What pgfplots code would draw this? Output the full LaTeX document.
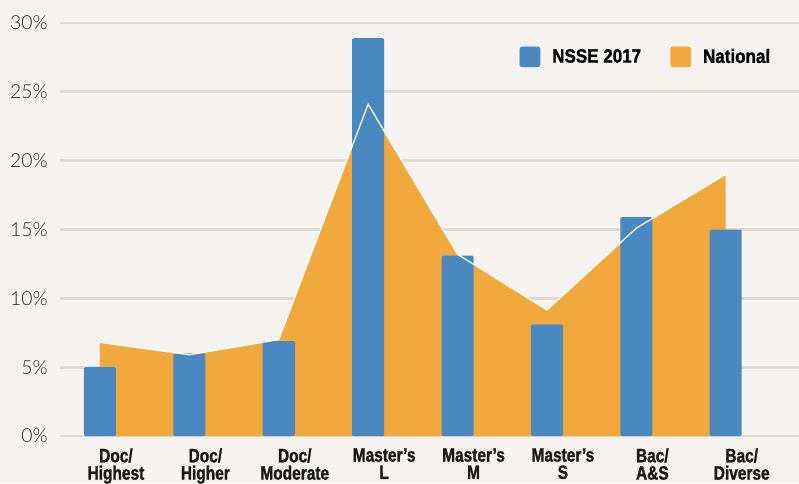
\documentclass[border=0pt]{standalone}
\usepackage{fontspec}
\usepackage{pgfplots}
\pgfplotsset{compat=1.18}
\setmainfont{Liberation Sans}
\newfontfamily\catfont[FakeStretch=0.8,FakeBold=1.2]{Liberation Sans}
\newfontfamily\legfont[FakeStretch=0.88,FakeBold=1.2]{Liberation Sans}
\newfontfamily\tickfont{Lato Light}
\definecolor{bgc}{HTML}{F5F2EF}
\definecolor{nsseblue}{HTML}{4A89BF}
\definecolor{natorange}{HTML}{F1A83C}
\definecolor{gridc}{HTML}{E0D9D0}
\begin{document}
\begin{tikzpicture}
\fill[bgc] (-45pt,-35.25pt) rectangle (554.25pt,327pt);
\useasboundingbox (-45pt,-35.25pt) rectangle (554.25pt,327pt);
\begin{axis}[
  at={(0pt,0pt)}, anchor=south west,
  scale only axis, width=554pt, height=309.75pt,
  xmin=-0.447, xmax=7.816, ymin=0, ymax=30,
  axis line style={draw=none},
  major tick length=0pt,
  xtick={0,1,2,3,4,5,6,7},
  xticklabels={{Doc/\\Highest},{Doc/\\Higher},{Doc/\\Moderate},{Master’s\\L},{Master’s\\M},{Master’s\\S},{Bac/\\A\&S},{Bac/\\Diverse}},
  xticklabel style={align=center, anchor=north, inner sep=0pt, yshift=-9pt, xshift=12pt,
     font=\catfont\bfseries\fontsize{14.5}{13}\selectfont, text=black!90},
  ytick={0,5,10,15,20,25,30},
  yticklabel={\pgfmathprintnumber{\tick}\%},
  yticklabel style={anchor=east, inner sep=0pt, xshift=-9pt,
     font=\tickfont\fontsize{14.5}{16}\selectfont, text=black!85},
  /pgf/number format/assume math mode=true,
  ymajorgrids,
  grid style={gridc, line width=2.2pt},
  clip=false,
  legend style={at={(rel axis cs:0.622,0.918)}, anchor=west, draw=none, fill=none,
     font=\legfont\bfseries\fontsize{14.5}{16}\selectfont, legend columns=2,
     /tikz/every odd column/.append style={column sep=7pt},
     /tikz/every even column/.append style={column sep=20pt},
     legend cell align=left, inner sep=0pt},
]
\addplot[fill=natorange, draw=none, forget plot] coordinates {
 (0,6.8) (1,5.9) (2,7.0) (3,24.1) (4,13.2) (5,9.15) (6,15.1) (7,19.0)} \closedcycle;
\addplot[ybar, bar width=0.358, bar shift=0pt, fill=nsseblue, draw=none, rounded corners=1pt, forget plot] coordinates {
 (0,5.0) (1,6.0) (2,6.9) (3,28.9) (4,13.1) (5,8.1) (6,15.9) (7,15.0)};
\addplot[white, line width=0.9pt, forget plot] coordinates {
 (0,6.8) (1,5.9) (2,7.0) (3,24.1) (4,13.2) (5,9.15) (6,15.1) (7,19.0)};
\addlegendimage{legend image code/.code={\fill[nsseblue,rounded corners=1.5pt] (0pt,-7.5pt) rectangle (15pt,7.5pt);}}
\addlegendentry{NSSE 2017}
\addlegendimage{legend image code/.code={\fill[natorange,rounded corners=1.5pt] (0pt,-7.5pt) rectangle (15pt,7.5pt);}}
\addlegendentry{National}
\end{axis}
\end{tikzpicture}
\end{document}
